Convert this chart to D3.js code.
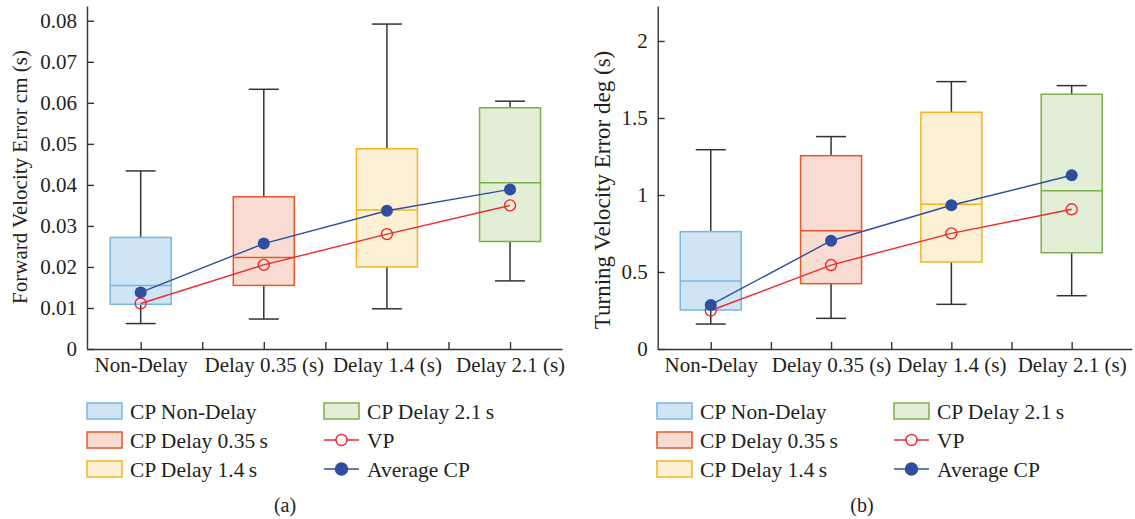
<!DOCTYPE html>
<html>
<head>
<meta charset="utf-8">
<script src="https://cdn.jsdelivr.net/npm/d3@7"></script>
<style>
  body { margin: 0; background: #fff; }
  svg text { font-family: "Liberation Serif", "Times New Roman", serif; fill: #231f20; }
  .axis path, .axis line { stroke: #333; stroke-width: 1.4; }
</style>
</head>
<body>
<div id="chart"></div>
<script>
// Categories shared by both panels
var categories = ["Non-Delay", "Delay 0.35 (s)", "Delay 1.4 (s)", "Delay 2.1 (s)"];
var legendNames = ["CP Non-Delay", "CP Delay 0.35\u2009s", "CP Delay 1.4\u2009s", "CP Delay 2.1\u2009s"];

// (a) forward velocity error
var fwdLow    = [0.0062, 0.0073, 0.0098, 0.0166];
var fwdQ1     = [0.0109, 0.0155, 0.0200, 0.0262];
var fwdMedian = [0.0155, 0.0223, 0.0339, 0.0405];
var fwdQ3     = [0.0272, 0.0371, 0.0488, 0.0588];
var fwdHigh   = [0.0434, 0.0633, 0.0792, 0.0604];
var fwdAvgCP  = [0.0138, 0.0257, 0.0337, 0.0389];
var fwdVP     = [0.0111, 0.0205, 0.0280, 0.0350];
var fwdTicks  = [0, 0.01, 0.02, 0.03, 0.04, 0.05, 0.06, 0.07, 0.08];

// (b) turning velocity error
var turnLow    = [0.162, 0.199, 0.290, 0.346];
var turnQ1     = [0.253, 0.424, 0.565, 0.625];
var turnMedian = [0.442, 0.768, 0.940, 1.028];
var turnQ3     = [0.762, 1.255, 1.537, 1.654];
var turnHigh   = [1.294, 1.379, 1.736, 1.710];
var turnAvgCP  = [0.286, 0.703, 0.933, 1.128];
var turnVP     = [0.250, 0.545, 0.751, 0.907];
var turnTicks  = [0, 0.5, 1, 1.5, 2];

var fills   = ["#cfe4f4", "#f9dcd1", "#fcf1d4", "#e3eed6"];
var strokes = ["#7ab7e0", "#e5572c", "#f3b522", "#7daf4b"];
var vpColor = "#ee2a2a", cpColor = "#2f4ea0";
var fs = "21.5px", tickFs = "21px";

var svg = d3.select("#chart").append("svg")
  .attr("width", 1135)
  .attr("height", 519);

function panel(opt) {
  var x = d3.scaleLinear().domain(opt.xDomain).range([opt.left, opt.right]);
  var y = d3.scaleLinear().domain([0, opt.yMax]).range([349, 6]);
  var g = svg.append("g");

  var rows = categories.map(function(c, i) {
    return { i: i, pos: i + 1, low: opt.low[i], q1: opt.q1[i], med: opt.med[i],
             q3: opt.q3[i], high: opt.high[i], cp: opt.cp[i], vp: opt.vp[i] };
  });

  // x axis with minor ticks between categories
  g.append("g")
    .attr("class", "axis")
    .attr("transform", "translate(0,349)")
    .call(d3.axisBottom(x)
      .tickValues([1, 1.5, 2, 2.5, 3, 3.5, 4])
      .tickSizeInner(-7).tickSizeOuter(0).tickPadding(8)
      .tickFormat(function(d) { return Number.isInteger(d) ? categories[d - 1] : ""; }))
    .call(function(a) { a.selectAll("text").style("font-size", tickFs); });

  g.append("g")
    .attr("class", "axis")
    .attr("transform", "translate(" + opt.left + ",0)")
    .call(d3.axisLeft(y)
      .tickValues(opt.ticks)
      .tickSizeInner(-7).tickSizeOuter(0).tickPadding(10)
      .tickFormat(opt.fmt))
    .call(function(a) { a.selectAll("text").style("font-size", tickFs); });

  // whiskers
  var bw = 61, cw = 30;
  var box = g.selectAll(".box").data(rows).enter().append("g");
  box.append("line")
    .attr("x1", function(d) { return x(d.pos); }).attr("x2", function(d) { return x(d.pos); })
    .attr("y1", function(d) { return y(d.high); }).attr("y2", function(d) { return y(d.low); })
    .attr("stroke", "#333").attr("stroke-width", 1.5);
  box.selectAll(".cap").data(function(d) { return [[d.pos, d.high], [d.pos, d.low]]; })
    .enter().append("line")
    .attr("x1", function(d) { return x(d[0]) - cw / 2; }).attr("x2", function(d) { return x(d[0]) + cw / 2; })
    .attr("y1", function(d) { return y(d[1]); }).attr("y2", function(d) { return y(d[1]); })
    .attr("stroke", "#333").attr("stroke-width", 1.5);
  box.append("rect")
    .attr("x", function(d) { return x(d.pos) - bw / 2; })
    .attr("width", bw)
    .attr("y", function(d) { return y(d.q3); })
    .attr("height", function(d) { return y(d.q1) - y(d.q3); })
    .attr("fill", function(d) { return fills[d.i]; })
    .attr("stroke", function(d) { return strokes[d.i]; })
    .attr("stroke-width", 1.5);
  box.append("line")
    .attr("x1", function(d) { return x(d.pos) - bw / 2; }).attr("x2", function(d) { return x(d.pos) + bw / 2; })
    .attr("y1", function(d) { return y(d.med); }).attr("y2", function(d) { return y(d.med); })
    .attr("stroke", function(d) { return strokes[d.i]; }).attr("stroke-width", 1.5);

  // VP and average CP lines
  var lineVP = d3.line().x(function(d) { return x(d.pos); }).y(function(d) { return y(d.vp); });
  var lineCP = d3.line().x(function(d) { return x(d.pos); }).y(function(d) { return y(d.cp); });
  g.append("path").datum(rows).attr("d", lineVP).attr("fill", "none").attr("stroke", vpColor).attr("stroke-width", 1.4);
  g.append("path").datum(rows).attr("d", lineCP).attr("fill", "none").attr("stroke", cpColor).attr("stroke-width", 1.4);
  g.selectAll(".vp").data(rows).enter().append("circle")
    .attr("cx", function(d) { return x(d.pos); }).attr("cy", function(d) { return y(d.vp); })
    .attr("r", 5.5).attr("fill", "none").attr("stroke", vpColor).attr("stroke-width", 1.4);
  g.selectAll(".cp").data(rows).enter().append("circle")
    .attr("cx", function(d) { return x(d.pos); }).attr("cy", function(d) { return y(d.cp); })
    .attr("r", 6).attr("fill", cpColor);

  // y axis title
  g.append("text")
    .attr("transform", "translate(" + opt.titleX + "," + opt.titleY + ") rotate(-90)")
    .attr("text-anchor", "middle")
    .style("font-size", opt.titleSize)
    .text(opt.title);

  // legend
  var rowY = [411, 440, 469];
  var lg = g.append("g");
  var boxItems = legendNames.map(function(n, i) {
    return { name: n, i: i, col: i < 3 ? 0 : 1, row: i < 3 ? i : 0 };
  });
  boxItems.forEach(function(d) {
    var lx = d.col === 0 ? opt.leg0 : opt.leg1;
    lg.append("rect")
      .attr("x", lx).attr("y", rowY[d.row] - 8).attr("width", 35).attr("height", 16)
      .attr("fill", fills[d.i]).attr("stroke", strokes[d.i]).attr("stroke-width", 1.5);
    lg.append("text")
      .attr("x", lx + 43).attr("y", rowY[d.row]).attr("dy", "0.35em")
      .style("font-size", fs).text(d.name);
  });
  [["VP", vpColor, false, 1], ["Average CP", cpColor, true, 2]].forEach(function(d) {
    var lx = opt.leg1, ly = rowY[d[3]];
    lg.append("line").attr("x1", lx).attr("x2", lx + 35).attr("y1", ly).attr("y2", ly)
      .attr("stroke", d[1]).attr("stroke-width", 1.4);
    lg.append("circle").attr("cx", lx + 17.5).attr("cy", ly).attr("r", d[2] ? 6 : 5.5)
      .attr("fill", d[2] ? d[1] : "#fff").attr("stroke", d[1]).attr("stroke-width", 1.4);
    lg.append("text")
      .attr("x", lx + 43).attr("y", ly).attr("dy", "0.35em")
      .style("font-size", fs).text(d[0]);
  });

  g.append("text")
    .attr("x", opt.capX).attr("y", 505).attr("dy", "0.35em")
    .attr("text-anchor", "middle")
    .style("font-size", "20px")
    .text(opt.caption);
}

panel({
  left: 87, right: 562, xDomain: [0.564, 4.422], yMax: 0.0836,
  low: fwdLow, q1: fwdQ1, med: fwdMedian, q3: fwdQ3, high: fwdHigh, cp: fwdAvgCP, vp: fwdVP,
  ticks: fwdTicks, fmt: function(d) { return d === 0 ? "0" : d3.format(".2f")(d); },
  title: "Forward Velocity Error cm (s)", titleX: 27, titleY: 177, titleSize: "21px",
  leg0: 87, leg1: 324, capX: 285, caption: "(a)"
});

panel({
  left: 657.7, right: 1131.7, xDomain: [0.559, 4.499], yMax: 2.227,
  low: turnLow, q1: turnQ1, med: turnMedian, q3: turnQ3, high: turnHigh, cp: turnAvgCP, vp: turnVP,
  ticks: turnTicks, fmt: function(d) { return String(d); },
  title: "Turning Velocity Error deg (s)", titleX: 610, titleY: 190, titleSize: "23px",
  leg0: 657, leg1: 894, capX: 862, caption: "(b)"
});
</script>
</body>
</html>
